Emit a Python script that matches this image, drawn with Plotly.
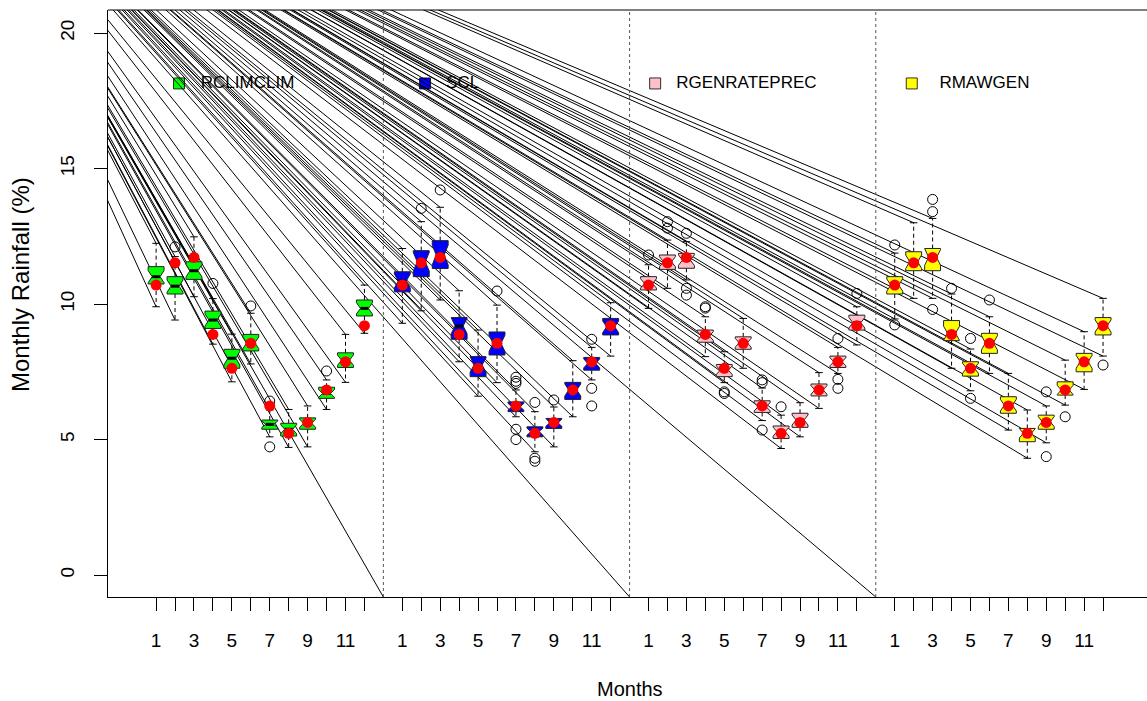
import plotly.graph_objects as go
import math

# ---------------- data ----------------
months = list(range(1, 13))
month_labels = [str(m) if m % 2 == 1 else "" for m in months]
groups = ["RCLIMCLIM", "SCL", "RGENRATEPREC", "RMAWGEN"]
group_colors = ["#00FF00", "#0000FF", "#FFC0CB", "#FFFF00"]

obs_mean = [10.70, 11.52, 11.72, 8.88, 7.63, 8.55, 6.24, 5.23, 5.63, 6.83, 7.87, 9.20]

# per group, per month: lower whisker, Q1, median, Q3, upper whisker
rclim_lo  = [9.90, 9.41, 10.27, 8.52, 7.13, 7.79, 5.10, 4.71, 4.73, 6.11, 7.11, 8.92]
rclim_q1  = [10.74, 10.37, 10.91, 9.10, 7.63, 8.27, 5.38, 5.13, 5.38, 6.52, 7.66, 9.56]
rclim_med = [11.01, 10.66, 11.23, 9.41, 8.00, 8.57, 5.56, 5.38, 5.60, 6.70, 7.93, 9.84]
rclim_q3  = [11.38, 11.01, 11.56, 9.74, 8.33, 8.88, 5.72, 5.60, 5.80, 6.93, 8.20, 10.15]
rclim_hi  = [12.24, 11.75, 12.48, 10.20, 8.89, 9.66, 6.09, 6.11, 6.24, 7.20, 8.88, 10.70]
rclim_out = [[], [12.11], [], [10.76], [], [9.93], [6.42, 4.73], [], [], [7.53], [], []]

scl_lo  = [9.29, 9.75, 10.15, 7.87, 6.60, 7.10, 5.84, 4.55, 4.73, 5.84, 7.20, 8.08]
scl_q1  = [10.45, 11.01, 11.31, 8.70, 7.32, 8.12, 6.03, 5.10, 5.41, 6.48, 7.56, 8.86]
scl_med = [10.85, 11.56, 11.81, 9.19, 7.75, 8.55, 6.21, 5.29, 5.62, 6.83, 7.81, 9.16]
scl_q3  = [11.19, 11.97, 12.34, 9.50, 8.06, 8.97, 6.39, 5.47, 5.78, 7.11, 8.03, 9.47]
scl_hi  = [12.05, 13.04, 13.57, 10.49, 9.04, 9.96, 6.83, 6.03, 6.20, 7.91, 8.40, 10.05]
scl_out = [[], [13.53], [14.21], [], [], [10.48], [7.30, 7.15, 7.07, 5.38, 5.00],
           [6.37, 4.31, 4.20], [6.46], [], [8.70, 6.89, 6.24], []]

rgen_lo  = [9.84, 10.58, 10.89, 8.06, 7.10, 7.63, 5.70, 4.67, 5.10, 6.15, 7.44, 8.49]
rgen_q1  = [10.52, 11.28, 11.32, 8.59, 7.32, 8.33, 6.00, 5.04, 5.45, 6.61, 7.66, 9.04]
rgen_med = [10.76, 11.56, 11.62, 8.82, 7.56, 8.57, 6.21, 5.29, 5.72, 6.83, 7.87, 9.31]
rgen_q3  = [11.01, 11.81, 11.87, 9.04, 7.77, 8.79, 6.43, 5.50, 5.97, 7.05, 8.08, 9.59]
rgen_hi  = [11.45, 12.36, 12.30, 9.53, 8.24, 9.47, 6.90, 5.90, 6.36, 7.47, 8.40, 9.90]
rgen_out = [[11.81], [13.04, 12.80], [12.61, 10.58, 10.33], [9.90, 9.85], [6.76, 6.70], [],
            [7.20, 7.10, 5.35], [6.21], [], [], [8.73, 7.22, 6.89], [10.39]]

rmaw_lo  = [9.45, 10.21, 10.21, 7.63, 6.80, 7.44, 5.35, 4.31, 4.88, 6.27, 6.85, 8.08]
rmaw_q1  = [10.37, 11.23, 11.23, 8.65, 7.34, 8.18, 5.97, 4.92, 5.38, 6.64, 7.50, 8.86]
rmaw_med = [10.70, 11.56, 11.72, 8.92, 7.63, 8.57, 6.27, 5.23, 5.66, 6.83, 7.87, 9.19]
rmaw_q3  = [11.01, 11.93, 12.05, 9.39, 7.87, 8.92, 6.58, 5.41, 5.90, 7.13, 8.18, 9.50]
rmaw_hi  = [11.88, 13.00, 13.16, 10.37, 8.34, 9.53, 7.44, 6.09, 6.24, 7.93, 8.98, 10.21]
rmaw_out = [[12.18, 9.23], [], [13.86, 13.41, 9.80], [10.58], [8.73, 6.52], [10.15],
            [], [], [6.76, 4.37], [5.84], [], [7.75]]

stats = [
    (rclim_lo, rclim_q1, rclim_med, rclim_q3, rclim_hi, rclim_out),
    (scl_lo, scl_q1, scl_med, scl_q3, scl_hi, scl_out),
    (rgen_lo, rgen_q1, rgen_med, rgen_q3, rgen_hi, rgen_out),
    (rmaw_lo, rmaw_q1, rmaw_med, rmaw_q3, rmaw_hi, rmaw_out),
]
n_years = 20

# ---------------- layout constants ----------------
GROUP_STEP = 13
BOX_HALF = 0.42
CAP_HALF = 0.2
XRANGE = [-1.54, 53.32]
YRANGE = [-0.81, 20.85]
FAN_ORIGIN = (-11.4, 28.9)
LEGEND_Y = 18.14
LEGEND_BOX_X = [2.21, 15.2, 27.35, 40.9]
LEGEND_TEXT_X = [3.36, 16.31, 28.46, 42.36]
FONT = "Liberation Sans, Arial, sans-serif"

def pos(g, m):
    return g * GROUP_STEP + m

positions = [pos(g, m) for g in range(4) for m in months]
separators = [GROUP_STEP * (g + 1) for g in range(3)]

fig = go.Figure()

# legend (drawn first so lines overlay it)
fig.add_trace(go.Scatter(
    x=LEGEND_BOX_X, y=[LEGEND_Y] * 4, mode="markers",
    marker=dict(symbol="square", size=11, color=group_colors, line=dict(color="black", width=0.8)),
    hoverinfo="skip", showlegend=False))
fig.add_trace(go.Scatter(
    x=LEGEND_TEXT_X, y=[LEGEND_Y] * 4, mode="text", text=groups,
    textposition="middle right", textfont=dict(family=FONT, size=17, color="black"),
    hoverinfo="skip", showlegend=False))

# fan lines from a point outside the plot to every whisker end and separator foot
fx, fy = [], []
for g in range(4):
    lo, q1, med, q3, hi, out = stats[g]
    for i, m in enumerate(months):
        p = pos(g, m)
        for v in (hi[i], lo[i]):
            fx += [FAN_ORIGIN[0], p, None]
            fy += [FAN_ORIGIN[1], v, None]
for s in separators:
    fx += [FAN_ORIGIN[0], s, None]
    fy += [FAN_ORIGIN[1], YRANGE[0], None]
fig.add_trace(go.Scatter(x=fx, y=fy, mode="lines", line=dict(color="black", width=1),
                         hoverinfo="skip", showlegend=False))

# whiskers (dashed) and staples
wx, wy, cx, cy, mx, my, ox, oy = [], [], [], [], [], [], [], []
for g in range(4):
    lo, q1, med, q3, hi, out = stats[g]
    for i, m in enumerate(months):
        p = pos(g, m)
        wx += [p, p, None, p, p, None]
        wy += [q3[i], hi[i], None, q1[i], lo[i], None]
        cx += [p - CAP_HALF, p + CAP_HALF, None, p - CAP_HALF, p + CAP_HALF, None]
        cy += [hi[i], hi[i], None, lo[i], lo[i], None]
        mx += [p - BOX_HALF / 2, p + BOX_HALF / 2, None]
        my += [med[i], med[i], None]
        for v in out[i]:
            ox.append(p)
            oy.append(v)

fig.add_trace(go.Scatter(x=wx, y=wy, mode="lines", line=dict(color="black", width=1, dash="4px,3px"),
                         hoverinfo="skip", showlegend=False))
fig.add_trace(go.Scatter(x=cx, y=cy, mode="lines", line=dict(color="black", width=1),
                         hoverinfo="skip", showlegend=False))

# notched boxes
for g in range(4):
    lo, q1, med, q3, hi, out = stats[g]
    for i, m in enumerate(months):
        p = pos(g, m)
        iqr = q3[i] - q1[i]
        notch = 1.58 * iqr / math.sqrt(n_years)
        nlo, nhi = med[i] - notch, med[i] + notch
        w = BOX_HALF
        xs = [p - w, p - w, p - w / 2, p - w, p - w, p + w, p + w, p + w / 2, p + w, p + w, p - w]
        ys = [q1[i], nlo, med[i], nhi, q3[i], q3[i], nhi, med[i], nlo, q1[i], q1[i]]
        fig.add_trace(go.Scatter(x=xs, y=ys, mode="lines", fill="toself",
                                 fillcolor=group_colors[g], line=dict(color="#222222", width=1),
                                 hoverinfo="skip", showlegend=False))

fig.add_trace(go.Scatter(x=mx, y=my, mode="lines", line=dict(color="black", width=3),
                         hoverinfo="skip", showlegend=False))
fig.add_trace(go.Scatter(x=ox, y=oy, mode="markers",
                         marker=dict(symbol="circle-open", size=10, color="black", line=dict(width=1)),
                         hoverinfo="skip", showlegend=False))

# observed means
fig.add_trace(go.Scatter(x=positions, y=obs_mean * 4, mode="markers",
                         marker=dict(symbol="circle", size=11, color="#FF0000"),
                         hoverinfo="skip", showlegend=False))

shapes = [dict(type="line", xref="x", yref="paper", x0=s, x1=s, y0=0, y1=1,
               line=dict(color="#555555", width=1, dash="dot")) for s in separators]
shapes.append(dict(type="line", xref="paper", yref="paper", x0=0, x1=1, y0=1, y1=1,
                   line=dict(color="black", width=1)))

fig.update_layout(
    width=1147, height=701,
    margin=dict(l=108, r=0, t=10, b=104),
    paper_bgcolor="white", plot_bgcolor="white",
    showlegend=False,
    shapes=shapes,
    font=dict(family=FONT, color="black"),
    xaxis=dict(range=XRANGE, tickmode="array", tickvals=positions, ticktext=month_labels * 4,
               ticks="outside", ticklen=13, tickcolor="black", tickwidth=1,
               showline=True, linecolor="black", linewidth=1, showgrid=False, zeroline=False,
               tickfont=dict(size=19, family=FONT), ticklabelstandoff=13),
    yaxis=dict(range=YRANGE, tickmode="array", tickvals=[0, 5, 10, 15, 20],
               ticks="outside", ticklen=13, tickcolor="black", tickwidth=1, tickangle=-90,
               showline=True, linecolor="black", linewidth=1, showgrid=False, zeroline=False,
               tickfont=dict(size=19, family=FONT), ticklabelstandoff=12),
    annotations=[
        dict(text="Months", xref="paper", yref="paper", x=(630 - 108) / 1039, y=(597 - 689) / 587,
             xanchor="center", yanchor="middle", showarrow=False, font=dict(size=20, family=FONT)),
        dict(text="Monthly Rainfall (%)", xref="paper", yref="paper", x=(20 - 108) / 1039,
             y=(597 - 285) / 587, xanchor="center", yanchor="middle", textangle=-90,
             showarrow=False, font=dict(size=24, family=FONT)),
    ],
)

fig.write_html("out.html")
